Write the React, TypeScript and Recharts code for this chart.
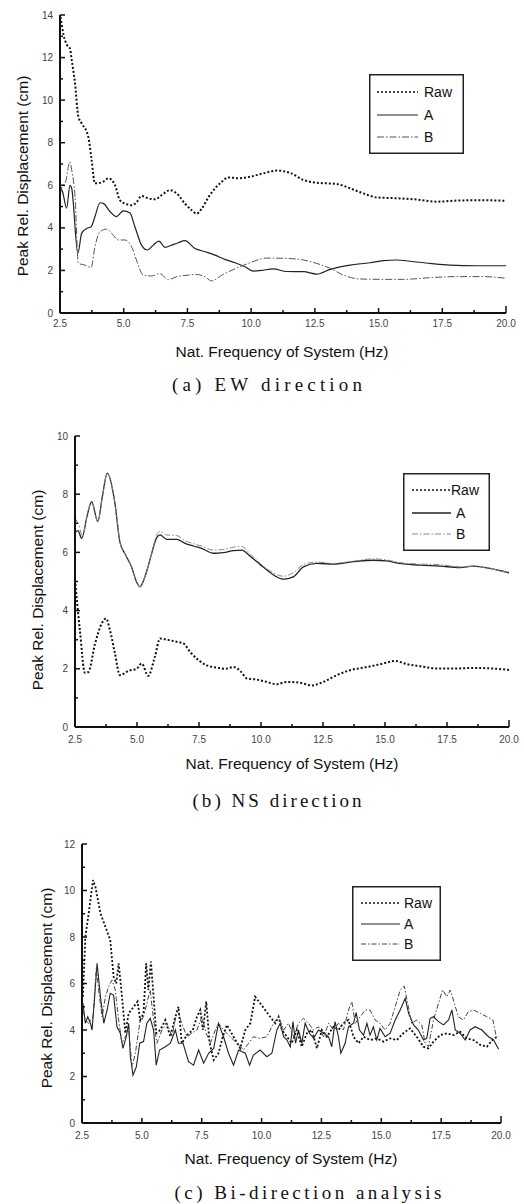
import React from 'react';
import { LineChart, Line, XAxis, YAxis, Legend } from 'recharts';

// ---------- shared axis values ----------
const xTicks = [2.5, 3.75, 5, 6.25, 7.5, 8.75, 10, 11.25, 12.5, 13.75, 15, 16.25, 17.5, 18.75, 20];
const seriesNames = ['Raw', 'A', 'B'];
const xTitle = 'Nat. Frequency of System (Hz)';
const yTitle = 'Peak Rel. Displacement (cm)';
const captions = ['(a)  EW  direction', '(b)  NS  direction', '(c)  Bi-direction  analysis'];

// ---------- (a) EW direction ----------
const ewRawF = [2.52, 2.54, 2.64, 2.77, 2.89, 2.96, 3.09, 3.22, 3.35, 3.61, 3.74, 3.87, 4.0, 4.2, 4.4, 4.66, 4.85, 5.05, 5.31, 5.5, 5.7, 5.96, 6.23, 6.49, 6.82, 7.14, 7.4, 7.67, 7.86, 8.06, 8.33, 8.58, 8.85, 9.1, 9.5, 9.95, 10.48, 11.0, 11.52, 12.05, 12.57, 13.36, 13.88, 14.4, 14.93, 15.71, 16.5, 17.28, 18.06, 19.1, 20.0];
const ewRawV = [13.9, 13.76, 13.06, 12.6, 12.43, 11.88, 10.79, 9.22, 8.91, 8.28, 7.19, 6.09, 6.1, 6.17, 6.33, 6.0, 5.3, 5.14, 5.06, 5.2, 5.5, 5.39, 5.34, 5.54, 5.77, 5.54, 5.14, 4.83, 4.67, 4.9, 5.45, 5.85, 6.17, 6.37, 6.33, 6.4, 6.56, 6.69, 6.59, 6.25, 6.12, 6.06, 5.86, 5.62, 5.43, 5.39, 5.33, 5.23, 5.28, 5.3, 5.27];
const ewAF = [2.52, 2.6, 2.76, 2.89, 2.96, 3.2, 3.35, 3.55, 3.72, 3.87, 4.07, 4.2, 4.46, 4.72, 4.98, 5.24, 5.44, 5.7, 5.93, 6.16, 6.38, 6.62, 6.88, 7.14, 7.4, 7.8, 8.19, 8.58, 8.97, 9.37, 9.76, 10.1, 10.4, 10.87, 11.39, 12.05, 12.57, 13.1, 13.88, 14.66, 15.19, 15.71, 16.23, 17.02, 17.8, 18.85, 20.0];
const ewAV = [5.9, 5.7, 4.92, 6.0, 5.85, 2.8, 3.74, 3.97, 4.05, 4.52, 5.18, 5.15, 4.77, 4.53, 4.8, 4.71, 4.05, 3.19, 2.96, 3.19, 3.38, 3.08, 3.19, 3.3, 3.4, 3.03, 2.88, 2.72, 2.52, 2.36, 2.17, 1.97, 2.0, 2.07, 1.95, 1.94, 1.83, 2.05, 2.25, 2.36, 2.46, 2.49, 2.43, 2.33, 2.25, 2.22, 2.22];
const ewBF = [2.52, 2.6, 2.7, 2.89, 2.96, 3.09, 3.22, 3.48, 3.72, 3.87, 4.07, 4.33, 4.53, 4.79, 5.05, 5.31, 5.5, 5.77, 6.1, 6.42, 6.75, 7.07, 7.53, 7.86, 8.19, 8.45, 8.85, 9.37, 9.89, 10.6, 11.26, 12.05, 12.57, 13.1, 13.62, 14.27, 15.19, 15.97, 17.02, 18.06, 19.1, 20.0];
const ewBV = [5.6, 6.0, 6.1, 7.1, 6.7, 5.47, 2.33, 2.25, 2.14, 3.11, 3.82, 3.94, 3.74, 3.43, 3.43, 3.11, 2.49, 1.78, 1.74, 1.85, 1.57, 1.7, 1.78, 1.81, 1.7, 1.51, 1.78, 2.08, 2.33, 2.58, 2.57, 2.49, 2.33, 2.1, 1.78, 1.6, 1.58, 1.58, 1.66, 1.71, 1.71, 1.63];

// ---------- (b) NS direction ----------
const nsRawF = [2.5, 2.7, 2.9, 3.04, 3.31, 3.58, 3.75, 3.91, 4.11, 4.31, 4.65, 4.98, 5.19, 5.45, 5.72, 5.93, 6.2, 6.6, 6.87, 7.14, 7.48, 7.81, 8.22, 8.55, 8.89, 9.16, 9.43, 9.83, 10.23, 10.63, 11.04, 11.58, 12.04, 12.51, 13.05, 13.59, 14.26, 14.93, 15.4, 15.88, 16.41, 17.08, 17.76, 18.56, 19.36, 20.0];
const nsRawV = [5.05, 3.3, 1.86, 1.89, 2.87, 3.56, 3.73, 3.33, 2.53, 1.78, 1.93, 2.0, 2.18, 1.76, 2.41, 3.04, 3.0, 2.93, 2.87, 2.58, 2.3, 2.12, 2.04, 2.0, 2.06, 1.93, 1.67, 1.63, 1.55, 1.47, 1.55, 1.52, 1.43, 1.55, 1.78, 1.95, 2.06, 2.18, 2.27, 2.16, 2.09, 2.01, 2.01, 2.03, 2.01, 1.96];
const nsAF = [2.52, 2.62, 2.77, 3.0, 3.17, 3.42, 3.6, 3.8, 4.11, 4.31, 4.51, 4.78, 4.98, 5.12, 5.32, 5.59, 5.79, 5.93, 6.2, 6.6, 6.94, 7.27, 7.6, 8.08, 8.48, 8.89, 9.23, 9.56, 9.97, 10.38, 10.9, 11.3, 11.71, 12.25, 12.92, 13.72, 14.53, 15.07, 15.6, 16.41, 17.22, 18.02, 18.56, 19.23, 20.0];
const nsAV = [6.7, 6.75, 6.48, 7.3, 7.74, 7.06, 7.9, 8.72, 7.69, 6.36, 5.96, 5.5, 4.99, 4.82, 5.16, 5.96, 6.5, 6.6, 6.45, 6.45, 6.31, 6.22, 6.14, 5.97, 5.99, 6.06, 6.08, 5.87, 5.58, 5.3, 5.08, 5.16, 5.5, 5.62, 5.6, 5.68, 5.73, 5.71, 5.62, 5.56, 5.53, 5.48, 5.53, 5.45, 5.3];
const nsBF = [2.52, 2.65, 2.8, 3.0, 3.17, 3.42, 3.6, 3.8, 4.11, 4.31, 4.51, 4.78, 4.98, 5.12, 5.32, 5.59, 5.79, 5.93, 6.2, 6.6, 6.94, 7.27, 7.6, 8.08, 8.48, 8.89, 9.23, 9.56, 9.97, 10.38, 10.9, 11.3, 11.71, 12.25, 12.92, 13.72, 14.53, 15.07, 15.6, 16.41, 17.22, 18.02, 18.56, 19.23, 20.0];
const nsBV = [7.15, 6.95, 6.55, 7.3, 7.74, 7.06, 7.9, 8.72, 7.69, 6.36, 5.96, 5.5, 4.99, 4.82, 5.16, 5.96, 6.6, 6.72, 6.6, 6.58, 6.4, 6.3, 6.22, 6.08, 6.1, 6.18, 6.2, 5.95, 5.62, 5.36, 5.18, 5.3, 5.58, 5.67, 5.62, 5.7, 5.78, 5.74, 5.65, 5.6, 5.58, 5.5, 5.53, 5.45, 5.3];

// ---------- (c) Bi-direction analysis ----------
const biRawF = [2.54, 2.64, 2.78, 2.96, 3.06, 3.27, 3.68, 3.82, 3.93, 4.03, 4.13, 4.31, 4.45, 4.66, 4.82, 4.93, 5.07, 5.18, 5.27, 5.38, 5.49, 5.6, 5.77, 5.98, 6.19, 6.4, 6.53, 6.67, 6.88, 7.13, 7.3, 7.44, 7.55, 7.69, 7.83, 8.0, 8.2, 8.38, 8.55, 8.83, 9.11, 9.32, 9.53, 9.73, 9.94, 10.15, 10.36, 10.57, 10.71, 10.85, 11.06, 11.26, 11.47, 11.68, 11.89, 12.1, 12.31, 12.52, 12.73, 13.0, 13.21, 13.42, 13.63, 13.84, 14.05, 14.26, 14.53, 14.81, 15.09, 15.37, 15.65, 15.92, 16.2, 16.48, 16.76, 16.97, 17.18, 17.46, 17.74, 18.01, 18.29, 18.57, 18.85, 19.13, 19.41, 19.69, 19.9];
const biRawV = [5.43, 8.01, 9.02, 10.45, 10.16, 9.02, 7.87, 6.29, 6.0, 6.87, 5.86, 3.86, 4.72, 5.0, 5.22, 4.43, 4.72, 6.87, 5.72, 6.94, 5.43, 3.86, 4.0, 4.43, 3.71, 4.57, 5.0, 3.43, 3.78, 4.0, 4.57, 4.86, 4.0, 5.22, 3.43, 2.71, 3.0, 3.71, 4.22, 3.71, 3.21, 4.0, 4.29, 5.43, 5.15, 4.86, 4.57, 4.29, 4.57, 4.0, 3.71, 3.43, 4.0, 3.28, 3.86, 4.0, 3.21, 4.0, 3.71, 4.14, 4.0, 4.29, 4.43, 3.71, 3.43, 3.71, 3.57, 3.64, 3.5, 3.64, 3.57, 3.86, 4.07, 3.71, 3.28, 3.21, 3.5, 3.78, 3.86, 3.78, 3.93, 3.64, 3.57, 3.36, 3.28, 3.64, 3.71];
const biAF = [2.54, 2.64, 2.74, 2.85, 2.92, 3.01, 3.13, 3.27, 3.41, 3.55, 3.68, 3.82, 3.96, 4.1, 4.21, 4.35, 4.45, 4.52, 4.63, 4.77, 4.91, 5.07, 5.21, 5.35, 5.49, 5.6, 5.74, 5.98, 6.19, 6.4, 6.53, 6.72, 6.95, 7.16, 7.37, 7.58, 7.79, 8.0, 8.2, 8.41, 8.62, 8.83, 9.04, 9.32, 9.5, 9.66, 9.94, 10.22, 10.43, 10.64, 10.78, 10.92, 11.06, 11.2, 11.31, 11.42, 11.54, 11.68, 11.82, 12.0, 12.17, 12.38, 12.59, 12.8, 12.93, 13.07, 13.21, 13.31, 13.49, 13.63, 13.84, 13.95, 14.09, 14.26, 14.4, 14.53, 14.67, 14.81, 14.95, 15.16, 15.37, 15.58, 15.79, 16.0, 16.14, 16.35, 16.55, 16.76, 16.9, 17.04, 17.18, 17.39, 17.6, 17.81, 17.95, 18.09, 18.29, 18.5, 18.71, 18.92, 19.2, 19.48, 19.69, 19.9];
const biAV = [5.15, 4.29, 4.57, 4.29, 4.0, 5.15, 6.87, 5.43, 4.29, 4.86, 5.58, 5.5, 4.14, 3.86, 3.21, 3.71, 4.29, 2.85, 2.06, 2.42, 3.43, 3.5, 4.29, 4.5, 4.0, 2.49, 3.14, 3.28, 3.43, 4.0, 3.43, 3.43, 2.64, 2.49, 3.14, 2.57, 3.0, 3.21, 4.29, 3.71, 3.0, 2.49, 3.14, 3.0, 2.49, 2.92, 3.14, 2.85, 3.0, 4.0, 4.29, 3.71, 3.57, 3.28, 4.36, 3.43, 4.0, 3.43, 4.29, 3.86, 3.64, 4.0, 3.86, 3.71, 3.28, 4.36, 3.71, 3.0, 3.43, 4.14, 4.29, 4.75, 4.0, 3.78, 4.29, 3.78, 4.14, 3.57, 4.07, 3.71, 3.86, 4.43, 4.86, 5.36, 4.72, 4.22, 4.0, 3.57, 3.64, 4.5, 4.57, 4.36, 4.22, 4.43, 4.86, 4.0, 3.86, 3.57, 4.0, 4.14, 4.0, 3.71, 3.57, 3.17];
const biBF = [2.54, 2.64, 2.78, 2.96, 3.1, 3.21, 3.34, 3.48, 3.61, 3.75, 3.89, 4.03, 4.17, 4.31, 4.45, 4.59, 4.73, 4.91, 5.07, 5.21, 5.35, 5.49, 5.63, 5.84, 6.05, 6.26, 6.47, 6.67, 6.88, 7.09, 7.3, 7.51, 7.69, 7.86, 8.07, 8.2, 8.41, 8.69, 8.97, 9.25, 9.46, 9.66, 9.94, 10.22, 10.5, 10.71, 10.92, 11.13, 11.34, 11.54, 11.75, 11.96, 12.17, 12.38, 12.59, 12.8, 13.0, 13.21, 13.42, 13.63, 13.77, 13.91, 14.12, 14.33, 14.53, 14.74, 14.95, 15.16, 15.37, 15.58, 15.79, 15.96, 16.1, 16.27, 16.48, 16.69, 16.83, 16.97, 17.18, 17.39, 17.56, 17.74, 17.88, 18.01, 18.22, 18.43, 18.64, 18.85, 19.13, 19.41, 19.66, 19.83];
const biBV = [4.86, 4.43, 4.29, 4.57, 6.72, 5.58, 4.57, 5.43, 5.86, 6.15, 5.72, 4.43, 3.43, 3.71, 4.0, 2.42, 3.0, 4.29, 4.57, 5.15, 5.72, 4.43, 3.43, 4.0, 4.29, 3.71, 4.86, 4.29, 3.71, 3.86, 4.0, 4.57, 3.86, 3.43, 4.0, 4.29, 4.0, 3.71, 3.43, 3.14, 3.43, 3.71, 3.64, 3.71, 4.29, 4.57, 4.0, 4.29, 3.71, 4.29, 4.5, 4.29, 4.0, 4.14, 3.71, 4.29, 4.0, 4.29, 4.0, 4.86, 5.22, 4.29, 4.57, 4.86, 4.86, 4.43, 4.29, 4.0, 4.29, 5.0, 5.72, 5.89, 5.15, 4.29, 4.43, 4.22, 3.43, 3.28, 4.43, 5.15, 5.72, 5.43, 5.72, 5.29, 4.57, 4.43, 4.79, 4.86, 4.72, 4.57, 4.43, 3.57];

const toPts = (f: number[], v: number[]) => f.map((x, i) => ({ f: x, v: v[i] }));

const SANS = '"Liberation Sans", Arial, sans-serif';
const SERIF = '"Liberation Serif", "DejaVu Serif", serif';

type StyleDef = { stroke: string; width: number; dash?: string };

const makeXTick = (axisY: number, labelDy: number) => (props: any) => {
  const { x, payload } = props;
  const val = payload.value as number;
  const major = Math.abs(val / 2.5 - Math.round(val / 2.5)) < 1e-6;
  const isEnd = Math.abs(val - 20) < 1e-6;
  return (
    <g>
      <line x1={x} x2={x} y1={axisY} y2={axisY - (isEnd ? 7 : major ? 5 : 3)} stroke="#111" strokeWidth={1.5} />
      {major && (
        <text x={x} y={axisY + labelDy} textAnchor="middle" fontSize={10} fill="#444" fontFamily={SANS}>
          {val.toFixed(1)}
        </text>
      )}
    </g>
  );
};

const makeYTick = (plotLeft: number) => (props: any) => {
  const { y, payload } = props;
  const val = payload.value as number;
  const major = val % 2 === 0;
  return (
    <g>
      <line x1={plotLeft} x2={plotLeft + (major ? 5 : 3)} y1={y} y2={y} stroke="#111" strokeWidth={1.5} />
      {major && (
        <text x={plotLeft - 7} y={y + 3.5} textAnchor="end" fontSize={10} fill="#444" fontFamily={SANS}>
          {val}
        </text>
      )}
    </g>
  );
};

type LegendSpec = { left: number; top: number; w: number; h: number; x1: number; x2: number; textX: number[]; rows: number[] };

const LegendBox = ({ spec, styles }: { spec: LegendSpec; styles: StyleDef[] }) => (
  <svg width={spec.w} height={spec.h} style={{ display: 'block' }}>
    <rect x={0.75} y={0.75} width={spec.w - 1.5} height={spec.h - 1.5} fill="#fff" stroke="#222" strokeWidth={1.5} />
    {seriesNames.map((name, i) => (
      <g key={name}>
        <line x1={spec.x1} x2={spec.x2} y1={spec.rows[i]} y2={spec.rows[i]} stroke={styles[i].stroke}
          strokeWidth={Math.min(styles[i].width, 1.5)} strokeDasharray={styles[i].dash} />
        <text x={spec.textX[i]} y={spec.rows[i] + 5} fontSize={14} fill="#111" fontFamily={SANS}>{name}</text>
      </g>
    ))}
  </svg>
);

type PanelProps = {
  top: number; height: number; yMax: number;
  margin: { top: number; right: number; bottom: number; left: number };
  yAxisWidth: number; labelDy: number;
  series: { f: number; v: number }[][];
  styles: StyleDef[]; curve: 'monotone' | 'linear';
  legend: LegendSpec;
};

const X_AXIS_H = 20;

const Panel = (p: PanelProps) => {
  const plotLeft = p.margin.left + p.yAxisWidth;
  const axisY = p.height - p.margin.bottom - X_AXIS_H;
  const yTicks = Array.from({ length: p.yMax + 1 }, (_, i) => i);
  return (
    <div style={{ position: 'absolute', left: 0, top: p.top, width: 524, height: p.height }}>
      <LineChart width={524} height={p.height} margin={p.margin}>
        <XAxis type="number" dataKey="f" domain={[2.5, 20]} ticks={xTicks} interval={0} allowDataOverflow
          height={X_AXIS_H} tickSize={0} tickLine={false} axisLine={{ stroke: '#111', strokeWidth: 2 }}
          tick={makeXTick(axisY, p.labelDy)} />
        <YAxis type="number" domain={[0, p.yMax]} ticks={yTicks} interval={0} allowDataOverflow
          width={p.yAxisWidth} tickSize={0} tickLine={false} axisLine={{ stroke: '#111', strokeWidth: 2 }}
          tick={makeYTick(plotLeft)} />
        <Legend layout="vertical" align="center" verticalAlign="middle"
          wrapperStyle={{ left: p.legend.left, top: p.legend.top, width: p.legend.w, height: p.legend.h }}
          content={() => <LegendBox spec={p.legend} styles={p.styles} />} />
        {p.series.map((d, i) => (
          <Line key={seriesNames[i]} name={seriesNames[i]} data={d} dataKey="v" type={p.curve}
            stroke={p.styles[i].stroke} strokeWidth={p.styles[i].width} strokeDasharray={p.styles[i].dash}
            dot={false} activeDot={false} isAnimationActive={false} />
        ))}
      </LineChart>
    </div>
  );
};

const ewStyles: StyleDef[] = [
  { stroke: '#111', width: 2, dash: '2 2' },
  { stroke: '#222', width: 1.2 },
  { stroke: '#555', width: 1, dash: '7 2 1.5 2' },
];
const nsStyles: StyleDef[] = [
  { stroke: '#111', width: 2, dash: '2 2' },
  { stroke: '#222', width: 1.3 },
  { stroke: '#888', width: 1, dash: '6 2 1.5 2' },
];
const biStyles: StyleDef[] = [
  { stroke: '#111', width: 1.8, dash: '2 2' },
  { stroke: '#222', width: 1.1 },
  { stroke: '#444', width: 1, dash: '5 2 1.5 2' },
];

export default function App() {
  return (
    <div style={{ position: 'absolute', left: 0, top: 0, width: 524, height: 1204, background: '#fff', overflow: 'hidden' }}>
      <Panel top={0} height={340} yMax={14} margin={{ top: 15, right: 18, bottom: 7, left: 20 }} yAxisWidth={40}
        labelDy={13.5} curve="monotone" styles={ewStyles}
        series={[toPts(ewRawF, ewRawV), toPts(ewAF, ewAV), toPts(ewBF, ewBV)]}
        legend={{ left: 369, top: 74, w: 95, h: 80, x1: 8, x2: 49, textX: [55, 55, 55], rows: [18, 41, 63] }} />
      <Panel top={420} height={330} yMax={10} margin={{ top: 16, right: 15, bottom: 3, left: 30 }} yAxisWidth={45}
        labelDy={16} curve="monotone" styles={nsStyles}
        series={[toPts(nsRawF, nsRawV), toPts(nsAF, nsAV), toPts(nsBF, nsBV)]}
        legend={{ left: 403, top: 53, w: 87, h: 78, x1: 9, x2: 48, textX: [48, 53, 53], rows: [17, 40, 61] }} />
      <Panel top={830} height={320} yMax={12} margin={{ top: 14, right: 23, bottom: 7, left: 37 }} yAxisWidth={45}
        labelDy={15.5} curve="linear" styles={biStyles}
        series={[toPts(biRawF, biRawV), toPts(biAF, biAV), toPts(biBF, biBV)]}
        legend={{ left: 352, top: 56, w: 89, h: 75, x1: 9, x2: 48, textX: [52, 52, 52], rows: [17, 38, 58] }} />
      <svg width={524} height={1204} style={{ position: 'absolute', left: 0, top: 0, pointerEvents: 'none' }}>
        <g fontFamily={SANS} fontSize={15.5} fill="#111">
          <text x={22} y={176} transform="rotate(-90 22 176)" textAnchor="middle" dominantBaseline="central">{yTitle}</text>
          <text x={282} y={351} textAnchor="middle" dominantBaseline="central">{xTitle}</text>
          <text x={37} y={590} transform="rotate(-90 37 590)" textAnchor="middle" dominantBaseline="central">{yTitle}</text>
          <text x={292} y={763} textAnchor="middle" dominantBaseline="central">{xTitle}</text>
          <text x={46} y={988} transform="rotate(-90 46 988)" textAnchor="middle" dominantBaseline="central">{yTitle}</text>
          <text x={291} y={1158} textAnchor="middle" dominantBaseline="central">{xTitle}</text>
        </g>
        <g fontFamily={SERIF} fontSize={19} fill="#111">
          <text x={267} y={384} textAnchor="middle" dominantBaseline="central" textLength={190} lengthAdjust="spacing">{captions[0]}</text>
          <text x={277} y={800} textAnchor="middle" dominantBaseline="central" textLength={169} lengthAdjust="spacing">{captions[1]}</text>
          <text x={308} y={1192} textAnchor="middle" dominantBaseline="central" textLength={267} lengthAdjust="spacing">{captions[2]}</text>
        </g>
      </svg>
    </div>
  );
}
